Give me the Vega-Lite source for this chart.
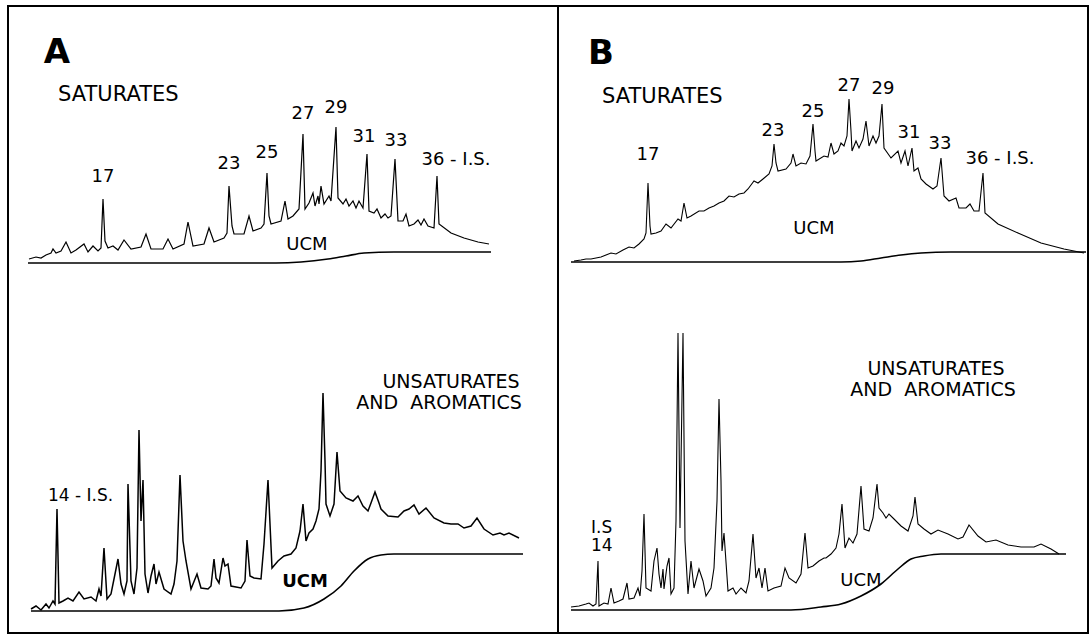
{
"$schema": "https://vega.github.io/schema/vega-lite/v6.json",
"padding": {"left": 7, "top": 5, "right": 2, "bottom": 2},
"spacing": 0,
"bounds": "flush",
"config": {"view": {"stroke": "black", "strokeWidth": 2}, "text": {"font": "DejaVu Sans", "color": "black"}},
"datasets": {
"A": [
{"k":"sat","t":21,"s":374},{"k":"sat","t":28,"s":376},{"k":"sat","t":33,"s":375},{"k":"sat","t":38,"s":378},{"k":"sat","t":43,"s":380},{"k":"sat","t":45,"s":384},{"k":"sat","t":48,"s":380},{"k":"sat","t":53,"s":382},{"k":"sat","t":58,"s":391},{"k":"sat","t":63,"s":380},{"k":"sat","t":68,"s":383},{"k":"sat","t":76,"s":389},{"k":"sat","t":80,"s":381},{"k":"sat","t":85,"s":387},{"k":"sat","t":90,"s":382},{"k":"sat","t":93,"s":385},{"k":"sat","t":95,"s":434},{"k":"sat","t":97,"s":392},{"k":"sat","t":100,"s":385},{"k":"sat","t":105,"s":387},{"k":"sat","t":110,"s":383},{"k":"sat","t":116,"s":393},{"k":"sat","t":123,"s":384},{"k":"sat","t":133,"s":386},{"k":"sat","t":138,"s":399},{"k":"sat","t":143,"s":384},{"k":"sat","t":155,"s":384},{"k":"sat","t":160,"s":394},{"k":"sat","t":165,"s":384},{"k":"sat","t":176,"s":389},{"k":"sat","t":180,"s":411},{"k":"sat","t":185,"s":387},{"k":"sat","t":196,"s":389},{"k":"sat","t":201,"s":405},{"k":"sat","t":206,"s":391},{"k":"sat","t":216,"s":395},{"k":"sat","t":219,"s":400},{"k":"sat","t":221,"s":447},{"k":"sat","t":224,"s":407},{"k":"sat","t":226,"s":399},{"k":"sat","t":236,"s":399},{"k":"sat","t":241,"s":417},{"k":"sat","t":245,"s":402},{"k":"sat","t":253,"s":405},{"k":"sat","t":256,"s":409},{"k":"sat","t":259,"s":460},{"k":"sat","t":261,"s":417},{"k":"sat","t":263,"s":409},{"k":"sat","t":273,"s":412},{"k":"sat","t":277,"s":432},{"k":"sat","t":280,"s":414},{"k":"sat","t":285,"s":417},{"k":"sat","t":291,"s":424},{"k":"sat","t":295,"s":499},{"k":"sat","t":297,"s":424},{"k":"sat","t":301,"s":430},{"k":"sat","t":305,"s":440},{"k":"sat","t":307,"s":427},{"k":"sat","t":310,"s":437},{"k":"sat","t":311,"s":429},{"k":"sat","t":313,"s":447},{"k":"sat","t":316,"s":429},{"k":"sat","t":321,"s":437},{"k":"sat","t":323,"s":432},{"k":"sat","t":328,"s":506},{"k":"sat","t":330,"s":435},{"k":"sat","t":335,"s":429},{"k":"sat","t":338,"s":434},{"k":"sat","t":341,"s":427},{"k":"sat","t":345,"s":432},{"k":"sat","t":348,"s":425},{"k":"sat","t":351,"s":432},{"k":"sat","t":355,"s":425},{"k":"sat","t":359,"s":479},{"k":"sat","t":361,"s":422},{"k":"sat","t":366,"s":420},{"k":"sat","t":369,"s":424},{"k":"sat","t":373,"s":415},{"k":"sat","t":377,"s":419},{"k":"sat","t":380,"s":415},{"k":"sat","t":383,"s":417},{"k":"sat","t":387,"s":474},{"k":"sat","t":390,"s":412},{"k":"sat","t":395,"s":412},{"k":"sat","t":398,"s":419},{"k":"sat","t":401,"s":407},{"k":"sat","t":406,"s":409},{"k":"sat","t":410,"s":413},{"k":"sat","t":413,"s":408},{"k":"sat","t":416,"s":414},{"k":"sat","t":420,"s":407},{"k":"sat","t":426,"s":405},{"k":"sat","t":429,"s":457},{"k":"sat","t":431,"s":409},{"k":"sat","t":443,"s":400},{"k":"sat","t":456,"s":395},{"k":"sat","t":470,"s":391},{"k":"sat","t":481,"s":389},
{"k":"ucmS","t":20,"s":370},{"k":"ucmS","t":268,"s":370},{"k":"ucmS","t":293,"s":371},{"k":"ucmS","t":320,"s":374},{"k":"ucmS","t":338,"s":377},{"k":"ucmS","t":356,"s":380},{"k":"ucmS","t":386,"s":381},{"k":"ucmS","t":483,"s":381},
{"k":"uns","t":23,"s":24},{"k":"uns","t":28,"s":27},{"k":"uns","t":33,"s":23},{"k":"uns","t":38,"s":29},{"k":"uns","t":41,"s":25},{"k":"uns","t":45,"s":32},{"k":"uns","t":47,"s":29},{"k":"uns","t":49,"s":124},{"k":"uns","t":51,"s":30},{"k":"uns","t":55,"s":32},{"k":"uns","t":60,"s":35},{"k":"uns","t":65,"s":32},{"k":"uns","t":71,"s":41},{"k":"uns","t":76,"s":34},{"k":"uns","t":83,"s":36},{"k":"uns","t":88,"s":32},{"k":"uns","t":91,"s":44},{"k":"uns","t":93,"s":37},{"k":"uns","t":96,"s":85},{"k":"uns","t":99,"s":34},{"k":"uns","t":103,"s":39},{"k":"uns","t":106,"s":54},{"k":"uns","t":110,"s":74},{"k":"uns","t":113,"s":49},{"k":"uns","t":116,"s":39},{"k":"uns","t":119,"s":52},{"k":"uns","t":120,"s":149},{"k":"uns","t":123,"s":52},{"k":"uns","t":126,"s":39},{"k":"uns","t":129,"s":65},{"k":"uns","t":131,"s":203},{"k":"uns","t":133,"s":112},{"k":"uns","t":135,"s":153},{"k":"uns","t":137,"s":59},{"k":"uns","t":140,"s":40},{"k":"uns","t":143,"s":57},{"k":"uns","t":146,"s":69},{"k":"uns","t":148,"s":49},{"k":"uns","t":151,"s":61},{"k":"uns","t":156,"s":44},{"k":"uns","t":163,"s":39},{"k":"uns","t":166,"s":49},{"k":"uns","t":169,"s":72},{"k":"uns","t":172,"s":158},{"k":"uns","t":175,"s":92},{"k":"uns","t":178,"s":72},{"k":"uns","t":183,"s":44},{"k":"uns","t":189,"s":59},{"k":"uns","t":193,"s":45},{"k":"uns","t":200,"s":44},{"k":"uns","t":203,"s":47},{"k":"uns","t":206,"s":74},{"k":"uns","t":208,"s":55},{"k":"uns","t":211,"s":50},{"k":"uns","t":215,"s":75},{"k":"uns","t":217,"s":67},{"k":"uns","t":220,"s":69},{"k":"uns","t":223,"s":47},{"k":"uns","t":233,"s":45},{"k":"uns","t":237,"s":52},{"k":"uns","t":239,"s":93},{"k":"uns","t":242,"s":57},{"k":"uns","t":246,"s":55},{"k":"uns","t":253,"s":54},{"k":"uns","t":256,"s":89},{"k":"uns","t":260,"s":153},{"k":"uns","t":264,"s":65},{"k":"uns","t":270,"s":72},{"k":"uns","t":276,"s":77},{"k":"uns","t":283,"s":79},{"k":"uns","t":288,"s":85},{"k":"uns","t":292,"s":102},{"k":"uns","t":295,"s":129},{"k":"uns","t":298,"s":92},{"k":"uns","t":301,"s":100},{"k":"uns","t":305,"s":104},{"k":"uns","t":308,"s":112},{"k":"uns","t":311,"s":124},{"k":"uns","t":313,"s":162},{"k":"uns","t":315,"s":240},{"k":"uns","t":317,"s":172},{"k":"uns","t":318,"s":129},{"k":"uns","t":322,"s":117},{"k":"uns","t":326,"s":129},{"k":"uns","t":329,"s":181},{"k":"uns","t":332,"s":142},{"k":"uns","t":338,"s":135},{"k":"uns","t":345,"s":132},{"k":"uns","t":350,"s":137},{"k":"uns","t":355,"s":127},{"k":"uns","t":360,"s":122},{"k":"uns","t":363,"s":130},{"k":"uns","t":367,"s":141},{"k":"uns","t":371,"s":130},{"k":"uns","t":373,"s":124},{"k":"uns","t":380,"s":117},{"k":"uns","t":390,"s":116},{"k":"uns","t":396,"s":122},{"k":"uns","t":401,"s":124},{"k":"uns","t":406,"s":128},{"k":"uns","t":411,"s":119},{"k":"uns","t":418,"s":125},{"k":"uns","t":426,"s":115},{"k":"uns","t":436,"s":110},{"k":"uns","t":443,"s":109},{"k":"uns","t":450,"s":109},{"k":"uns","t":456,"s":105},{"k":"uns","t":463,"s":107},{"k":"uns","t":469,"s":115},{"k":"uns","t":476,"s":104},{"k":"uns","t":485,"s":98},{"k":"uns","t":492,"s":100},{"k":"uns","t":496,"s":98},{"k":"uns","t":501,"s":100},{"k":"uns","t":511,"s":95},
{"k":"ucmU","t":23,"s":22},{"k":"ucmU","t":271,"s":22},{"k":"ucmU","t":296,"s":25},{"k":"ucmU","t":316,"s":34},{"k":"ucmU","t":333,"s":47},{"k":"ucmU","t":346,"s":62},{"k":"ucmU","t":360,"s":74},{"k":"ucmU","t":373,"s":78},{"k":"ucmU","t":386,"s":79},{"k":"ucmU","t":515,"s":79}
],
"B": [
{"k":"sat","t":16,"s":372},{"k":"sat","t":23,"s":373},{"k":"sat","t":28,"s":374},{"k":"sat","t":33,"s":374},{"k":"sat","t":38,"s":375},{"k":"sat","t":43,"s":376},{"k":"sat","t":48,"s":378},{"k":"sat","t":53,"s":380},{"k":"sat","t":58,"s":379},{"k":"sat","t":65,"s":383},{"k":"sat","t":71,"s":386},{"k":"sat","t":76,"s":385},{"k":"sat","t":81,"s":389},{"k":"sat","t":86,"s":394},{"k":"sat","t":88,"s":400},{"k":"sat","t":90,"s":450},{"k":"sat","t":92,"s":407},{"k":"sat","t":93,"s":399},{"k":"sat","t":98,"s":400},{"k":"sat","t":103,"s":402},{"k":"sat","t":108,"s":409},{"k":"sat","t":113,"s":405},{"k":"sat","t":120,"s":414},{"k":"sat","t":123,"s":412},{"k":"sat","t":126,"s":430},{"k":"sat","t":129,"s":415},{"k":"sat","t":133,"s":417},{"k":"sat","t":141,"s":422},{"k":"sat","t":146,"s":422},{"k":"sat","t":151,"s":425},{"k":"sat","t":156,"s":427},{"k":"sat","t":161,"s":430},{"k":"sat","t":166,"s":432},{"k":"sat","t":171,"s":437},{"k":"sat","t":176,"s":436},{"k":"sat","t":181,"s":439},{"k":"sat","t":186,"s":440},{"k":"sat","t":190,"s":444},{"k":"sat","t":196,"s":452},{"k":"sat","t":200,"s":450},{"k":"sat","t":205,"s":454},{"k":"sat","t":211,"s":459},{"k":"sat","t":214,"s":467},{"k":"sat","t":216,"s":489},{"k":"sat","t":218,"s":470},{"k":"sat","t":220,"s":462},{"k":"sat","t":228,"s":464},{"k":"sat","t":233,"s":470},{"k":"sat","t":235,"s":479},{"k":"sat","t":238,"s":467},{"k":"sat","t":243,"s":470},{"k":"sat","t":248,"s":469},{"k":"sat","t":252,"s":477},{"k":"sat","t":255,"s":509},{"k":"sat","t":257,"s":482},{"k":"sat","t":258,"s":472},{"k":"sat","t":266,"s":477},{"k":"sat","t":270,"s":476},{"k":"sat","t":273,"s":490},{"k":"sat","t":276,"s":479},{"k":"sat","t":280,"s":482},{"k":"sat","t":283,"s":490},{"k":"sat","t":286,"s":487},{"k":"sat","t":289,"s":497},{"k":"sat","t":291,"s":534},{"k":"sat","t":293,"s":502},{"k":"sat","t":294,"s":482},{"k":"sat","t":298,"s":492},{"k":"sat","t":301,"s":485},{"k":"sat","t":305,"s":494},{"k":"sat","t":308,"s":512},{"k":"sat","t":311,"s":487},{"k":"sat","t":315,"s":497},{"k":"sat","t":318,"s":490},{"k":"sat","t":321,"s":497},{"k":"sat","t":324,"s":529},{"k":"sat","t":326,"s":485},{"k":"sat","t":333,"s":475},{"k":"sat","t":340,"s":482},{"k":"sat","t":343,"s":470},{"k":"sat","t":347,"s":482},{"k":"sat","t":350,"s":467},{"k":"sat","t":354,"s":485},{"k":"sat","t":356,"s":462},{"k":"sat","t":360,"s":465},{"k":"sat","t":363,"s":454},{"k":"sat","t":368,"s":449},{"k":"sat","t":375,"s":444},{"k":"sat","t":379,"s":447},{"k":"sat","t":383,"s":475},{"k":"sat","t":386,"s":437},{"k":"sat","t":391,"s":432},{"k":"sat","t":398,"s":435},{"k":"sat","t":401,"s":425},{"k":"sat","t":408,"s":425},{"k":"sat","t":412,"s":429},{"k":"sat","t":416,"s":422},{"k":"sat","t":421,"s":422},{"k":"sat","t":425,"s":460},{"k":"sat","t":427,"s":420},{"k":"sat","t":440,"s":409},{"k":"sat","t":460,"s":400},{"k":"sat","t":483,"s":390},{"k":"sat","t":506,"s":384},{"k":"sat","t":526,"s":380},
{"k":"ucmS","t":13,"s":371},{"k":"ucmS","t":283,"s":371},{"k":"ucmS","t":303,"s":372},{"k":"ucmS","t":323,"s":375},{"k":"ucmS","t":343,"s":378},{"k":"ucmS","t":363,"s":380},{"k":"ucmS","t":393,"s":381},{"k":"ucmS","t":528,"s":381},
{"k":"uns","t":13,"s":26},{"k":"uns","t":21,"s":27},{"k":"uns","t":28,"s":29},{"k":"uns","t":31,"s":30},{"k":"uns","t":35,"s":27},{"k":"uns","t":38,"s":29},{"k":"uns","t":40,"s":72},{"k":"uns","t":41,"s":27},{"k":"uns","t":46,"s":30},{"k":"uns","t":50,"s":29},{"k":"uns","t":53,"s":45},{"k":"uns","t":56,"s":30},{"k":"uns","t":61,"s":32},{"k":"uns","t":65,"s":34},{"k":"uns","t":69,"s":50},{"k":"uns","t":71,"s":34},{"k":"uns","t":76,"s":35},{"k":"uns","t":80,"s":45},{"k":"uns","t":82,"s":37},{"k":"uns","t":84,"s":62},{"k":"uns","t":86,"s":119},{"k":"uns","t":88,"s":45},{"k":"uns","t":93,"s":42},{"k":"uns","t":96,"s":72},{"k":"uns","t":99,"s":85},{"k":"uns","t":101,"s":59},{"k":"uns","t":103,"s":45},{"k":"uns","t":105,"s":64},{"k":"uns","t":106,"s":44},{"k":"uns","t":109,"s":67},{"k":"uns","t":111,"s":75},{"k":"uns","t":113,"s":39},{"k":"uns","t":116,"s":45},{"k":"uns","t":118,"s":112},{"k":"uns","t":120,"s":300},{"k":"uns","t":122,"s":105},{"k":"uns","t":125,"s":300},{"k":"uns","t":127,"s":92},{"k":"uns","t":130,"s":39},{"k":"uns","t":133,"s":72},{"k":"uns","t":136,"s":45},{"k":"uns","t":141,"s":64},{"k":"uns","t":145,"s":52},{"k":"uns","t":148,"s":37},{"k":"uns","t":153,"s":45},{"k":"uns","t":156,"s":65},{"k":"uns","t":159,"s":132},{"k":"uns","t":161,"s":234},{"k":"uns","t":163,"s":152},{"k":"uns","t":164,"s":82},{"k":"uns","t":166,"s":100},{"k":"uns","t":170,"s":42},{"k":"uns","t":175,"s":45},{"k":"uns","t":178,"s":39},{"k":"uns","t":183,"s":45},{"k":"uns","t":188,"s":40},{"k":"uns","t":191,"s":52},{"k":"uns","t":195,"s":99},{"k":"uns","t":198,"s":55},{"k":"uns","t":201,"s":65},{"k":"uns","t":204,"s":45},{"k":"uns","t":207,"s":65},{"k":"uns","t":210,"s":42},{"k":"uns","t":216,"s":45},{"k":"uns","t":223,"s":47},{"k":"uns","t":227,"s":65},{"k":"uns","t":231,"s":55},{"k":"uns","t":238,"s":50},{"k":"uns","t":243,"s":59},{"k":"uns","t":247,"s":100},{"k":"uns","t":250,"s":65},{"k":"uns","t":255,"s":67},{"k":"uns","t":261,"s":72},{"k":"uns","t":266,"s":75},{"k":"uns","t":268,"s":75},{"k":"uns","t":273,"s":79},{"k":"uns","t":278,"s":85},{"k":"uns","t":281,"s":99},{"k":"uns","t":284,"s":129},{"k":"uns","t":287,"s":85},{"k":"uns","t":291,"s":95},{"k":"uns","t":295,"s":90},{"k":"uns","t":299,"s":99},{"k":"uns","t":303,"s":147},{"k":"uns","t":306,"s":104},{"k":"uns","t":311,"s":102},{"k":"uns","t":315,"s":115},{"k":"uns","t":319,"s":149},{"k":"uns","t":321,"s":125},{"k":"uns","t":325,"s":120},{"k":"uns","t":328,"s":115},{"k":"uns","t":331,"s":119},{"k":"uns","t":336,"s":114},{"k":"uns","t":343,"s":107},{"k":"uns","t":350,"s":102},{"k":"uns","t":355,"s":117},{"k":"uns","t":357,"s":136},{"k":"uns","t":360,"s":109},{"k":"uns","t":366,"s":104},{"k":"uns","t":373,"s":99},{"k":"uns","t":380,"s":103},{"k":"uns","t":390,"s":99},{"k":"uns","t":400,"s":94},{"k":"uns","t":405,"s":96},{"k":"uns","t":411,"s":108},{"k":"uns","t":420,"s":97},{"k":"uns","t":428,"s":91},{"k":"uns","t":438,"s":93},{"k":"uns","t":450,"s":88},{"k":"uns","t":463,"s":86},{"k":"uns","t":476,"s":86},{"k":"uns","t":483,"s":89},{"k":"uns","t":493,"s":84},{"k":"uns","t":501,"s":79},
{"k":"ucmU","t":13,"s":23},{"k":"ucmU","t":233,"s":23},{"k":"ucmU","t":263,"s":26},{"k":"ucmU","t":283,"s":29},{"k":"ucmU","t":303,"s":37},{"k":"ucmU","t":323,"s":49},{"k":"ucmU","t":340,"s":64},{"k":"ucmU","t":353,"s":74},{"k":"ucmU","t":366,"s":77},{"k":"ucmU","t":383,"s":79},{"k":"ucmU","t":508,"s":79}
],
"labA": [
{"kind":"letter","t":49,"s":570,"label":"A"},
{"kind":"title","t":50,"s":532,"label":"SATURATES"},
{"kind":"peak","t":95,"s":456,"label":"17"},
{"kind":"peak","t":221,"s":469,"label":"23"},
{"kind":"peak","t":259,"s":480,"label":"25"},
{"kind":"peak","t":295,"s":519,"label":"27"},
{"kind":"peak","t":328,"s":525,"label":"29"},
{"kind":"peak","t":356,"s":496,"label":"31"},
{"kind":"peak","t":388,"s":492,"label":"33"},
{"kind":"peak","t":448,"s":473,"label":"36 - I.S."},
{"kind":"ucm","t":299,"s":388,"label":"UCM"},
{"kind":"ucmb","t":297,"s":51,"label":"UCM"},
{"kind":"title2","t":443,"s":245,"label":"UNSATURATES"},
{"kind":"title2","t":431,"s":224,"label":"AND\u00a0\u00a0AROMATICS"},
{"kind":"is","t":40,"s":132,"label":"14 - I.S."}
],
"labB": [
{"kind":"letter","t":43,"s":569,"label":"B"},
{"kind":"title","t":44,"s":530,"label":"SATURATES"},
{"kind":"peak","t":90,"s":478,"label":"17"},
{"kind":"peak","t":215,"s":502,"label":"23"},
{"kind":"peak","t":255,"s":521,"label":"25"},
{"kind":"peak","t":291,"s":547,"label":"27"},
{"kind":"peak","t":325,"s":544,"label":"29"},
{"kind":"peak","t":351,"s":500,"label":"31"},
{"kind":"peak","t":382,"s":489,"label":"33"},
{"kind":"peak","t":442,"s":474,"label":"36 - I.S."},
{"kind":"ucm","t":256,"s":404,"label":"UCM"},
{"kind":"ucm","t":303,"s":52,"label":"UCM"},
{"kind":"title2","t":378,"s":258,"label":"UNSATURATES"},
{"kind":"title2","t":375,"s":237,"label":"AND\u00a0\u00a0AROMATICS"},
{"kind":"is","t":33,"s":100,"label":"I.S"},
{"kind":"is","t":33,"s":82,"label":"14"}
]
},
"hconcat": [
{
"width": 550, "height": 627,
"encoding": {
"x": {"field": "t", "type": "quantitative", "scale": {"domain": [0, 550]}, "axis": null},
"y": {"field": "s", "type": "quantitative", "scale": {"domain": [0, 627]}, "axis": null}
},
"layer": [
{"data": {"name": "A"}, "transform": [{"filter": "datum.k=='sat'"}], "mark": {"type": "line", "color": "black", "strokeWidth": 1.2}, "encoding": {"detail": {"field": "k"}}},
{"data": {"name": "A"}, "transform": [{"filter": "datum.k=='uns'"}], "mark": {"type": "line", "color": "black", "strokeWidth": 1.5}, "encoding": {"detail": {"field": "k"}}},
{"data": {"name": "A"}, "transform": [{"filter": "datum.k=='ucmS'||datum.k=='ucmU'"}], "mark": {"type": "line", "color": "black", "strokeWidth": 1.6, "interpolate": "monotone"}, "encoding": {"detail": {"field": "k"}}},
{"data": {"name": "labA"}, "transform": [{"filter": "datum.kind=='letter'"}], "mark": {"type": "text", "fontSize": 34, "fontWeight": "bold", "align": "center", "baseline": "alphabetic"}, "encoding": {"text": {"field": "label"}}},
{"data": {"name": "labA"}, "transform": [{"filter": "datum.kind=='title'"}], "mark": {"type": "text", "fontSize": 21, "align": "left", "baseline": "alphabetic"}, "encoding": {"text": {"field": "label"}}},
{"data": {"name": "labA"}, "transform": [{"filter": "datum.kind=='peak'"}], "mark": {"type": "text", "fontSize": 18, "align": "center", "baseline": "middle"}, "encoding": {"text": {"field": "label"}}},
{"data": {"name": "labA"}, "transform": [{"filter": "datum.kind=='ucm'"}], "mark": {"type": "text", "fontSize": 18, "align": "center", "baseline": "middle"}, "encoding": {"text": {"field": "label"}}},
{"data": {"name": "labA"}, "transform": [{"filter": "datum.kind=='ucmb'"}], "mark": {"type": "text", "fontSize": 18, "fontWeight": "bold", "align": "center", "baseline": "middle"}, "encoding": {"text": {"field": "label"}}},
{"data": {"name": "labA"}, "transform": [{"filter": "datum.kind=='title2'"}], "mark": {"type": "text", "fontSize": 19, "align": "center", "baseline": "alphabetic"}, "encoding": {"text": {"field": "label"}}},
{"data": {"name": "labA"}, "transform": [{"filter": "datum.kind=='is'"}], "mark": {"type": "text", "fontSize": 17, "align": "left", "baseline": "alphabetic"}, "encoding": {"text": {"field": "label"}}}
]
},
{
"width": 530, "height": 627,
"encoding": {
"x": {"field": "t", "type": "quantitative", "scale": {"domain": [0, 530]}, "axis": null},
"y": {"field": "s", "type": "quantitative", "scale": {"domain": [0, 627]}, "axis": null}
},
"layer": [
{"data": {"name": "B"}, "transform": [{"filter": "datum.k=='sat'||datum.k=='uns'"}], "mark": {"type": "line", "color": "black", "strokeWidth": 1.1}, "encoding": {"detail": {"field": "k"}}},
{"data": {"name": "B"}, "transform": [{"filter": "datum.k=='ucmS'||datum.k=='ucmU'"}], "mark": {"type": "line", "color": "black", "strokeWidth": 1.6, "interpolate": "monotone"}, "encoding": {"detail": {"field": "k"}}},
{"data": {"name": "labB"}, "transform": [{"filter": "datum.kind=='letter'"}], "mark": {"type": "text", "fontSize": 34, "fontWeight": "bold", "align": "center", "baseline": "alphabetic"}, "encoding": {"text": {"field": "label"}}},
{"data": {"name": "labB"}, "transform": [{"filter": "datum.kind=='title'"}], "mark": {"type": "text", "fontSize": 21, "align": "left", "baseline": "alphabetic"}, "encoding": {"text": {"field": "label"}}},
{"data": {"name": "labB"}, "transform": [{"filter": "datum.kind=='peak'"}], "mark": {"type": "text", "fontSize": 18, "align": "center", "baseline": "middle"}, "encoding": {"text": {"field": "label"}}},
{"data": {"name": "labB"}, "transform": [{"filter": "datum.kind=='ucm'"}], "mark": {"type": "text", "fontSize": 18, "align": "center", "baseline": "middle"}, "encoding": {"text": {"field": "label"}}},
{"data": {"name": "labB"}, "transform": [{"filter": "datum.kind=='title2'"}], "mark": {"type": "text", "fontSize": 19, "align": "center", "baseline": "alphabetic"}, "encoding": {"text": {"field": "label"}}},
{"data": {"name": "labB"}, "transform": [{"filter": "datum.kind=='is'"}], "mark": {"type": "text", "fontSize": 17, "align": "left", "baseline": "alphabetic"}, "encoding": {"text": {"field": "label"}}}
]
}
]
}
